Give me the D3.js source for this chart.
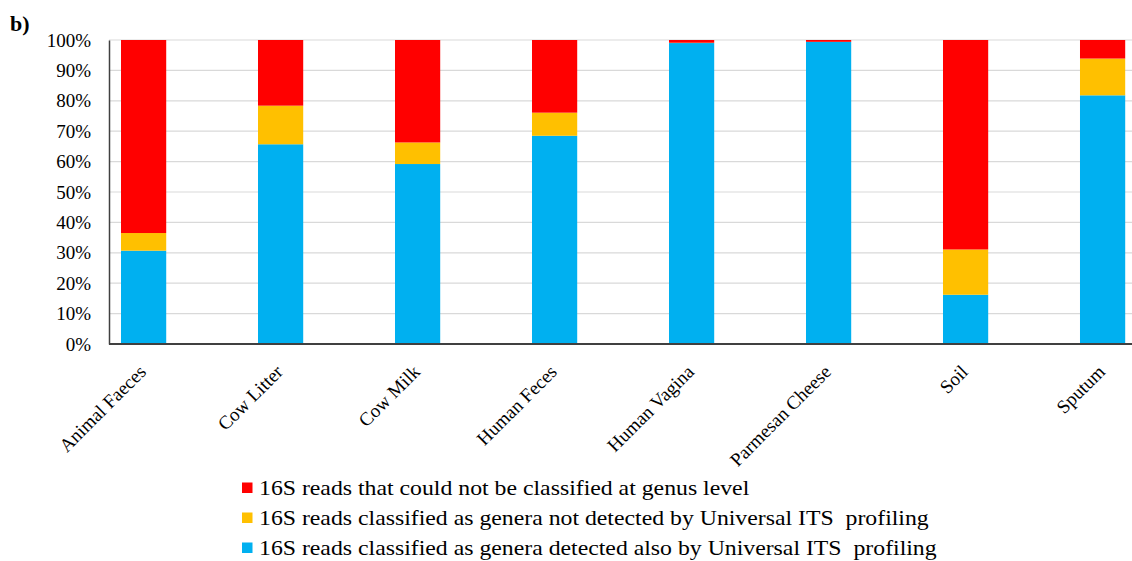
<!DOCTYPE html>
<html><head><meta charset="utf-8">
<script src="https://cdn.jsdelivr.net/npm/d3@7"></script>
<style>body{margin:0;background:#fff}svg{display:block}text{font-family:"Liberation Serif","Times New Roman",serif}</style>
</head><body><svg id="c" width="1132" height="561"></svg>
<script>
const categories = ["Animal Faeces","Cow Litter","Cow Milk","Human Feces","Human Vagina","Parmesan Cheese","Soil","Sputum"];
const detectedAlso = [30.7, 65.7, 59.2, 68.5, 99.0, 99.4, 16.2, 81.8];
const notDetected  = [5.8, 12.7, 7.1, 7.6, 0.1, 0.0, 14.9, 12.1];
const unclassified = [63.5, 21.6, 33.7, 23.9, 0.9, 0.6, 68.9, 6.1];
const yTicks = [0,10,20,30,40,50,60,70,80,90,100];
const seriesNames = ["16S reads classified as genera detected also by Universal ITS  profiling",
                     "16S reads classified as genera not detected by Universal ITS  profiling",
                     "16S reads that could not be classified at genus level"];
const colors = ["#00B0F0","#FFC000","#FF0000"];

(function(){
const svg = d3.select("#c");
const mLeft = 109, mTop = 40, mBottom = 344;
const x = d3.scaleBand().domain(categories).range([mLeft, mLeft + 1028.2]).paddingInner(0.67).paddingOuter(0.0876);
const y = d3.scaleLinear().domain([0,100]).range([mBottom, mTop]);

svg.append("g").selectAll("line").data(yTicks.filter(d=>d>0)).join("line")
  .attr("x1", mLeft).attr("x2", 1132).attr("y1", d=>y(d)).attr("y2", d=>y(d))
  .attr("stroke", "#d9d9d9").attr("stroke-width", 1.2);

const rows = categories.map((c,i)=>({cat:c, s0:detectedAlso[i], s1:notDetected[i], s2:unclassified[i]}));
const stack = d3.stack().keys(["s0","s1","s2"])(rows);
svg.append("g").selectAll("g").data(stack).join("g").attr("fill",(d,i)=>colors[i])
  .selectAll("rect").data(d=>d).join("rect")
  .attr("x", d=>x(d.data.cat)).attr("width", x.bandwidth())
  .attr("y", d=>y(Math.min(100,d[1]))).attr("height", d=>Math.max(0, y(d[0]) - y(Math.min(100,d[1]))));

const yAxis = svg.append("g").attr("transform",`translate(${mLeft},0)`)
  .call(d3.axisLeft(y).tickValues(yTicks).tickFormat(d=>d+"%").tickSize(0).tickPadding(18));
yAxis.attr("font-family",null);
yAxis.select(".domain").attr("stroke","#404040").attr("stroke-width",1.5);
yAxis.selectAll("text").attr("font-size",19).attr("fill","#000");

const xAxis = svg.append("g").attr("transform",`translate(0,${mBottom})`)
  .call(d3.axisBottom(x).tickSize(0).tickSizeOuter(0));
xAxis.attr("font-family",null);
xAxis.select(".domain").attr("stroke","#404040").attr("stroke-width",1.8).attr("d",`M${mLeft},0H1132`);
xAxis.selectAll("text").attr("font-size",19).attr("fill","#000")
  .attr("text-anchor","end").attr("dy",0).attr("y",0)
  .attr("transform","translate(3.5,29) rotate(-45)");

svg.append("text").attr("x",10).attr("y",31).text("b)")
  .attr("font-weight","bold").attr("font-size",22);

const leg = svg.append("g");
[2,1,0].forEach((si,k)=>{
  const yy = 495 + k*30;
  leg.append("rect").attr("x",242).attr("y",yy-12.5).attr("width",10.5).attr("height",10.5).attr("fill",colors[si]);
  const t = leg.append("text").attr("x",259).attr("y",yy).text(seriesNames[si]).attr("fill","#000")
    .attr("font-size",22).style("white-space","pre");
  const w = t.node().getComputedTextLength();
  t.attr("textLength", w*1.08).attr("lengthAdjust","spacingAndGlyphs");
});
})();
</script></body></html>
